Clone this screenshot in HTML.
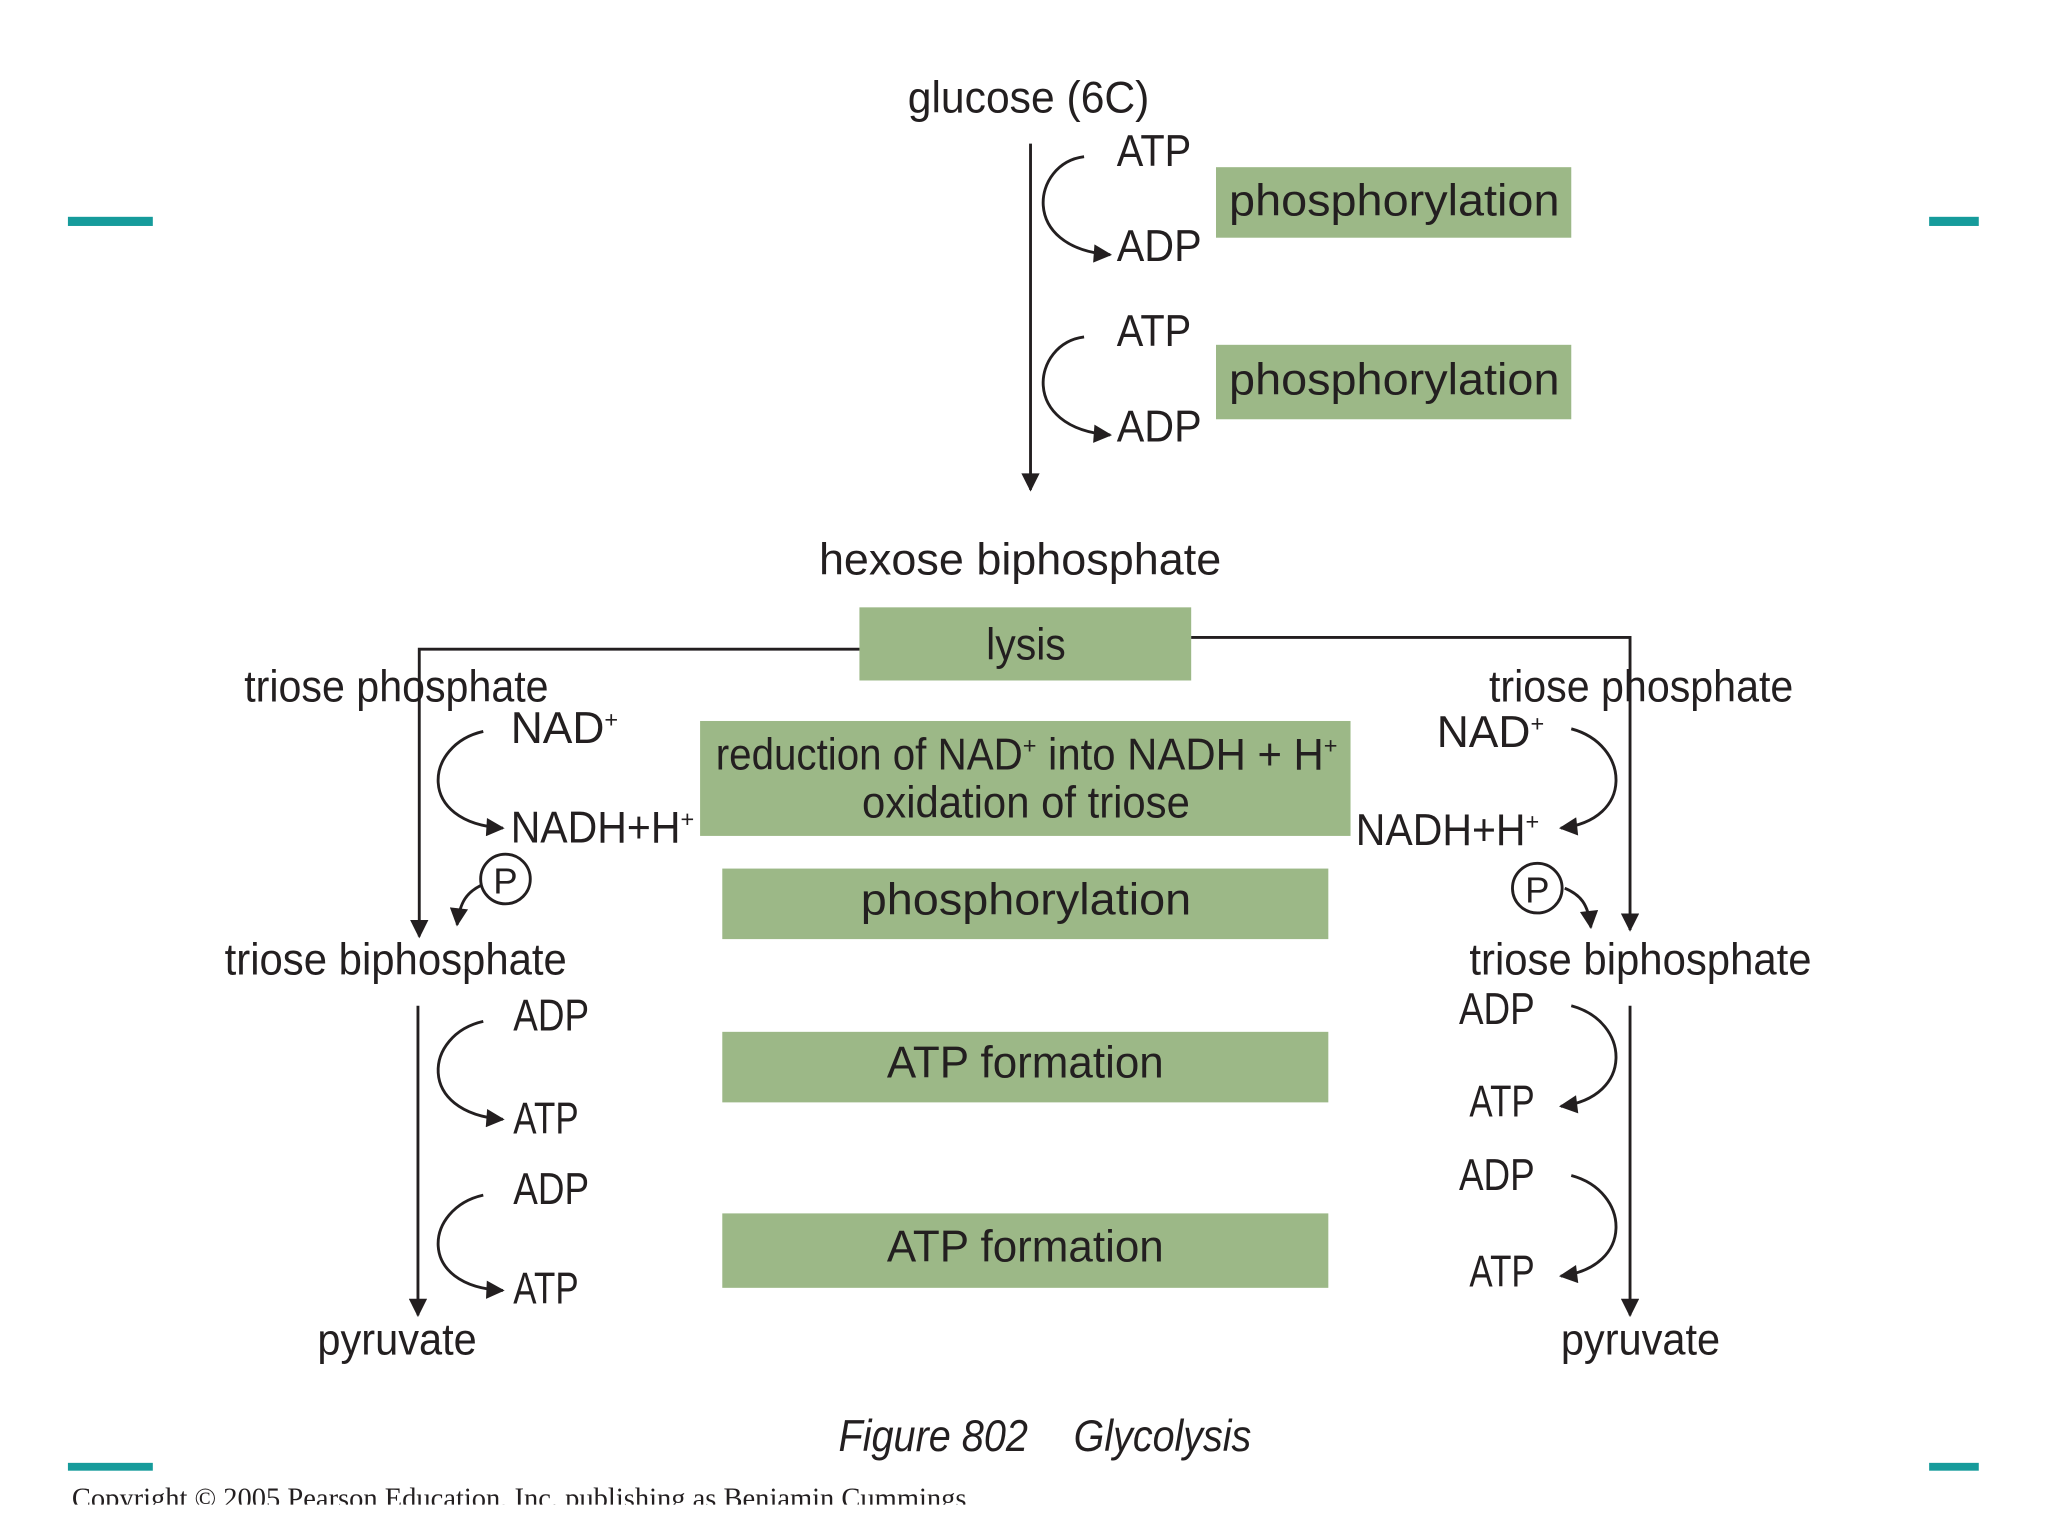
<!DOCTYPE html>
<html><head><meta charset="utf-8"><style>
html,body{margin:0;padding:0;background:#fff;}
svg{display:block;}
text{font-family:"Liberation Sans Narrow","Liberation Sans",sans-serif;fill:#231f20;}
</style></head><body>
<svg width="2048" height="1536" viewBox="0 0 1568 1176" xmlns="http://www.w3.org/2000/svg">
<defs>
<marker id="b" viewBox="0 0 10 10" refX="9" refY="5" markerWidth="22" markerHeight="14" orient="auto" markerUnits="userSpaceOnUse"><path d="M0,0 L10,5 L0,10 z" fill="#231f20"/></marker>
</defs>
<rect width="1568" height="1176" fill="#fff"/>
<g fill="#169b9b">
<rect x="52" y="166" width="65" height="7"/><rect x="1477" y="166" width="38" height="7"/>
<rect x="52" y="1120" width="65" height="6"/><rect x="1477" y="1120" width="38" height="6"/>
</g>
<g fill="#9cb887">
<rect x="931" y="128" width="272" height="54"/>
<rect x="931" y="264" width="272" height="57"/>
<rect x="658" y="465" width="254" height="56"/>
<rect x="536" y="552" width="498" height="88"/>
<rect x="553" y="665" width="464" height="54"/>
<rect x="553" y="790" width="464" height="54"/>
<rect x="553" y="929" width="464" height="57"/>
</g>
<g stroke="#231f20" stroke-width="2.2" fill="none">
<line x1="789" y1="110" x2="789" y2="375" marker-end="url(#b)"/>
<path d="M830,120 C790,125 780,190 850,195" marker-end="url(#b)"/>
<path d="M830,258 C790,263 780,328 850,333" marker-end="url(#b)"/>
<polyline points="658,497 321,497 321,717" marker-end="url(#b)"/>
<polyline points="912,488 1248,488 1248,712" marker-end="url(#b)"/>
<path d="M370,560 C325,570 318,630 385,634" marker-end="url(#b)"/>
<path d="M1203,558 C1248,570 1252,628 1195,634" marker-end="url(#b)"/>
<circle cx="387" cy="673" r="19"/>
<circle cx="1177" cy="680" r="19"/>
<path d="M368,678 C358,683 352,690 350,708" marker-end="url(#b)"/>
<path d="M1198,680 C1210,685 1216,692 1218,710" marker-end="url(#b)"/>
<line x1="320" y1="770" x2="320" y2="1007" marker-end="url(#b)"/>
<line x1="1248" y1="770" x2="1248" y2="1007" marker-end="url(#b)"/>
<path d="M370,782 C325,792 318,852 385,857" marker-end="url(#b)"/>
<path d="M370,915 C325,925 318,985 385,988" marker-end="url(#b)"/>
<path d="M1203,770 C1248,782 1252,840 1195,847" marker-end="url(#b)"/>
<path d="M1203,900 C1248,912 1252,970 1195,977" marker-end="url(#b)"/>
</g>
<g font-size="34" lengthAdjust="spacingAndGlyphs">
<text x="695" y="86" textLength="185" lengthAdjust="spacingAndGlyphs">glucose (6C)</text>
<text x="855" y="127" textLength="57" lengthAdjust="spacingAndGlyphs">ATP</text><text x="855" y="200" textLength="65" lengthAdjust="spacingAndGlyphs">ADP</text>
<text x="855" y="265" textLength="57" lengthAdjust="spacingAndGlyphs">ATP</text><text x="855" y="338" textLength="65" lengthAdjust="spacingAndGlyphs">ADP</text>
<text x="941" y="165" textLength="253" lengthAdjust="spacingAndGlyphs">phosphorylation</text>
<text x="941" y="302" textLength="253" lengthAdjust="spacingAndGlyphs">phosphorylation</text>
<text x="627" y="440" textLength="308" lengthAdjust="spacingAndGlyphs">hexose biphosphate</text>
<text x="755" y="505" textLength="61" lengthAdjust="spacingAndGlyphs">lysis</text>
<text x="187" y="537" textLength="233" lengthAdjust="spacingAndGlyphs">triose phosphate</text>
<text x="1140" y="537" textLength="233" lengthAdjust="spacingAndGlyphs">triose phosphate</text>
<text x="391" y="569">NAD<tspan font-size="18" dy="-12">+</tspan></text>
<text x="391" y="645"><tspan textLength="130" lengthAdjust="spacingAndGlyphs">NADH+H</tspan><tspan font-size="18" dy="-12">+</tspan></text>
<text x="1100" y="572">NAD<tspan font-size="18" dy="-12">+</tspan></text>
<text x="1038" y="647"><tspan textLength="130" lengthAdjust="spacingAndGlyphs">NADH+H</tspan><tspan font-size="18" dy="-12">+</tspan></text>
<text x="548" y="589"><tspan textLength="235" lengthAdjust="spacingAndGlyphs">reduction of NAD</tspan><tspan font-size="18" dy="-12">+</tspan><tspan dy="12" textLength="220" lengthAdjust="spacingAndGlyphs"> into NADH + H</tspan><tspan font-size="18" dy="-12">+</tspan></text>
<text x="660" y="626" textLength="251" lengthAdjust="spacingAndGlyphs">oxidation of triose</text>
<text x="659" y="700" textLength="253" lengthAdjust="spacingAndGlyphs">phosphorylation</text>
<text x="387" y="684" text-anchor="middle" font-size="28">P</text>
<text x="1177" y="691" text-anchor="middle" font-size="28">P</text>
<text x="172" y="746" textLength="262" lengthAdjust="spacingAndGlyphs">triose biphosphate</text>
<text x="1125" y="746" textLength="262" lengthAdjust="spacingAndGlyphs">triose biphosphate</text>
<text x="393" y="789" textLength="58" lengthAdjust="spacingAndGlyphs">ADP</text><text x="393" y="868" textLength="50" lengthAdjust="spacingAndGlyphs">ATP</text>
<text x="393" y="922" textLength="58" lengthAdjust="spacingAndGlyphs">ADP</text><text x="393" y="998" textLength="50" lengthAdjust="spacingAndGlyphs">ATP</text>
<text x="1117" y="784" textLength="58" lengthAdjust="spacingAndGlyphs">ADP</text><text x="1125" y="855" textLength="50" lengthAdjust="spacingAndGlyphs">ATP</text>
<text x="1117" y="911" textLength="58" lengthAdjust="spacingAndGlyphs">ADP</text><text x="1125" y="985" textLength="50" lengthAdjust="spacingAndGlyphs">ATP</text>
<text x="679" y="825" textLength="212" lengthAdjust="spacingAndGlyphs">ATP formation</text>
<text x="679" y="966" textLength="212" lengthAdjust="spacingAndGlyphs">ATP formation</text>
<text x="243" y="1037" textLength="122" lengthAdjust="spacingAndGlyphs">pyruvate</text>
<text x="1195" y="1037" textLength="122" lengthAdjust="spacingAndGlyphs">pyruvate</text>
<text x="642" y="1111" font-style="italic" textLength="145" lengthAdjust="spacingAndGlyphs">Figure 802</text>
<text x="822" y="1111" font-style="italic" textLength="136" lengthAdjust="spacingAndGlyphs">Glycolysis</text>
</g>
<text x="55" y="1154" font-size="22" textLength="685" lengthAdjust="spacingAndGlyphs" style="font-family:'Liberation Serif',serif">Copyright © 2005 Pearson Education, Inc. publishing as Benjamin Cummings</text>
<rect x="0" y="1152" width="1568" height="24" fill="#fff"/>
</svg>
</body></html>
